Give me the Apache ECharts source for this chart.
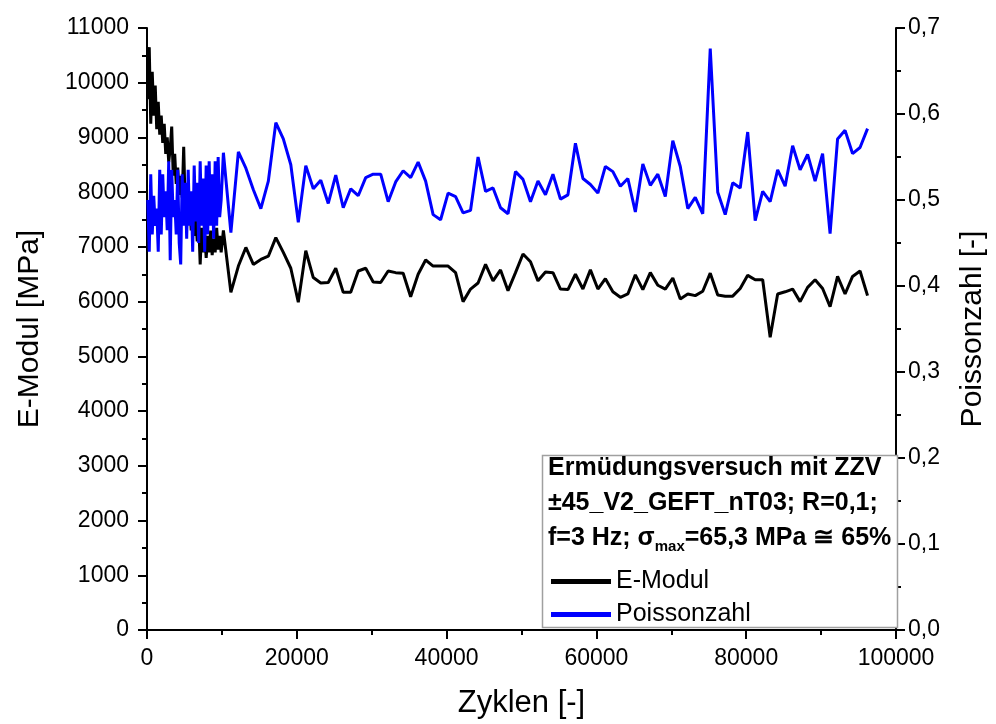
<!DOCTYPE html>
<html><head><meta charset="utf-8">
<script src="https://cdn.jsdelivr.net/npm/echarts@6/dist/echarts.min.js"></script>
<style>html,body{margin:0;padding:0;background:#fff}#c{width:996px;height:724px}</style>
</head><body><div id="c"></div>
<script>
// Cycles (Zyklen)
const cyclesDense = [100,300,500,700,900,1100,1300,1500,1700,1900,2100,2300,2500,2700,2900,3100,3300,3500,3700,3900,
  4100,4300,4500,4700,4900,5100,5300,5500,5700,5900,6100,6300,6500,6700,6900,7100,7300,7500,7700,7900,
  8100,8300,8500,8700,8900,9100,9300,9500,9700,9900];
const cyclesSparse = [10200,11200,12200,13200,14200,15200,16200,17200,18200,19200,20200,21200,22200,23200,24200,25200,26200,27200,28200,29200,
  30200,31200,32200,33200,34200,35200,36200,37200,38200,39200,40200,41200,42200,43200,44200,45200,46200,47200,48200,49200,
  50200,51200,52200,53200,54200,55200,56200,57200,58200,59200,60200,61200,62200,63200,64200,65200,66200,67200,68200,69200,
  70200,71200,72200,73200,74200,75200,76200,77200,78200,79200,80200,81200,82200,83200,84200,85200,86200,87200,88200,89200,
  90200,91200,92200,93200,94200,95200,96200];
// E-Modul [MPa]
const eModulDense = [9700,10650,9250,10200,9400,9950,9150,9650,9050,9400,8900,9250,8700,9000,8550,8800,9200,8300,8700,8150,
  8450,7950,8300,7900,8830,7750,8050,7500,7850,7300,7700,7200,7600,7100,7450,6680,7350,6900,7250,6800,
  7200,6900,7300,6850,7150,6900,7350,6950,7200,6900];
const eModulSparse = [7300,6170,6650,6990,6680,6770,6830,7170,6900,6610,5990,6930,6440,6340,6350,6610,6170,6170,6560,6610,
  6360,6350,6560,6530,6520,6090,6500,6760,6650,6650,
  6650,6530,6000,6230,6340,6680,6380,6580,6200,6530,6870,6730,6380,6540,6530,6230,6220,6500,6230,6580,
  6230,6420,6180,6080,6140,6490,6220,6530,6300,6230,
  6430,6050,6140,6110,6190,6520,6120,6100,6100,6240,6480,6400,6400,5350,6140,6180,6230,6000,6260,6400,
  6240,5910,6460,6140,6460,6560,6110];
// Poissonzahl [-]
const poissonDense = [0.50,0.44,0.53,0.46,0.505,0.47,0.49,0.44,0.535,0.46,0.53,0.48,0.51,0.465,0.545,0.43,0.535,0.48,0.50,0.46,
  0.535,0.45,0.425,0.53,0.47,0.52,0.455,0.535,0.47,0.51,0.44,0.54,0.475,0.52,0.45,0.545,0.47,0.525,0.44,0.54,
  0.46,0.545,0.47,0.53,0.455,0.545,0.47,0.55,0.48,0.50];
const poissonSparse = [0.555,0.462,0.556,0.537,0.512,0.490,0.522,0.590,0.571,0.541,0.474,0.540,0.513,0.523,0.496,0.529,0.491,0.513,0.505,0.526,
  0.530,0.530,0.498,0.521,0.534,0.526,0.544,0.522,0.483,0.477,
  0.508,0.504,0.485,0.488,0.550,0.510,0.514,0.491,0.484,0.533,0.524,0.498,0.522,0.506,0.530,0.501,0.506,0.566,0.525,0.518,
  0.508,0.539,0.533,0.516,0.525,0.486,0.542,0.517,0.530,0.504,
  0.569,0.539,0.490,0.503,0.484,0.676,0.509,0.483,0.520,0.514,0.579,0.476,0.510,0.498,0.535,0.516,0.563,0.535,0.553,0.522,
  0.554,0.461,0.571,0.581,0.554,0.561,0.583];

const cycles = cyclesDense.concat(cyclesSparse);
const eModul = eModulDense.concat(eModulSparse);
const poisson = poissonDense.concat(poissonSparse);
const pair = (xs, ys) => xs.map((x, i) => [x, ys[i]]);

const FONT = "'Liberation Sans', Arial, sans-serif";
const axisCommon = {
  axisLine: {show: true, lineStyle: {color: '#000', width: 2}},
  axisTick: {show: true, inside: false, length: 9, lineStyle: {color: '#000', width: 2}},
  minorTick: {show: true, splitNumber: 2, length: 5, lineStyle: {color: '#000', width: 2}},
  splitLine: {show: false},
  minorSplitLine: {show: false},
};
const plain = v => String(Math.round(v));

const chart = echarts.init(document.getElementById('c'), null, {renderer: 'canvas'});
chart.setOption({
  animation: false,
  backgroundColor: '#fff',
  grid: {left: 147, right: 98, top: 28, bottom: 92, containLabel: false},
  xAxis: Object.assign({}, axisCommon, {
    type: 'value', min: 0, max: 100000, interval: 20000,
    name: 'Zyklen [-]', nameLocation: 'middle', nameGap: 58,
    nameTextStyle: {fontFamily: FONT, fontSize: 31, color: '#000'},
    axisLabel: {fontFamily: FONT, fontSize: 23, color: '#000', margin: 17, formatter: plain}
  }),
  yAxis: [
    Object.assign({}, axisCommon, {
      type: 'value', min: 0, max: 11000, interval: 1000, position: 'left',
      name: 'E-Modul [MPa]', nameLocation: 'middle', nameGap: 102, nameRotate: 90,
      nameTextStyle: {fontFamily: FONT, fontSize: 30, color: '#000'},
      axisLabel: {fontFamily: FONT, fontSize: 23, color: '#000', margin: 18, formatter: plain}
    }),
    Object.assign({}, axisCommon, {
      type: 'value', min: 0, max: 0.7, interval: 0.1, position: 'right',
      name: 'Poissonzahl [-]', nameLocation: 'middle', nameGap: 62, nameRotate: 90,
      nameTextStyle: {fontFamily: FONT, fontSize: 30, color: '#000'},
      axisLabel: {fontFamily: FONT, fontSize: 23, color: '#000', margin: 12,
        formatter: v => v.toFixed(1).replace('.', ',')}
    })
  ],
  legend: {
    orient: 'vertical', left: 546, top: 564, itemWidth: 60, itemHeight: 5, itemGap: 8,
    icon: 'rect', z: 20,
    textStyle: {fontFamily: FONT, fontSize: 25, color: '#000'},
    data: ['E-Modul', 'Poissonzahl']
  },
  graphic: [
    {type: 'rect', z: 10, shape: {x: 542.5, y: 455.5, width: 355, height: 172},
     style: {fill: '#fff', stroke: '#a0a0a0', lineWidth: 1.5}},
    {type: 'text', z: 11, left: 548, top: 456,
     style: {
       text: '{b|Ermüdungsversuch mit ZZV}\n{b|±45_V2_GEFT_nT03; R=0,1;}\n{b|f=3 Hz; σ}{s|max}{b|=65,3 MPa ≅ 65%}',
       rich: {
         b: {fontFamily: FONT, fontWeight: 'bold', fontSize: 25, lineHeight: 35, fill: '#000'},
         s: {fontFamily: FONT, fontWeight: 'bold', fontSize: 15, lineHeight: 35, fill: '#000', padding: [16, 0, 0, 0]}
       }
     }}
  ],
  series: [
    {name: 'E-Modul', type: 'line', yAxisIndex: 0, data: pair(cycles, eModul),
     showSymbol: false, symbol: 'none', color: '#000', lineStyle: {color: '#000', width: 3}, z: 3},
    {name: 'Poissonzahl', type: 'line', yAxisIndex: 1, data: pair(cycles, poisson),
     showSymbol: false, symbol: 'none', color: '#0000ff', lineStyle: {color: '#0000ff', width: 3}, z: 4}
  ]
});
</script></body></html>
